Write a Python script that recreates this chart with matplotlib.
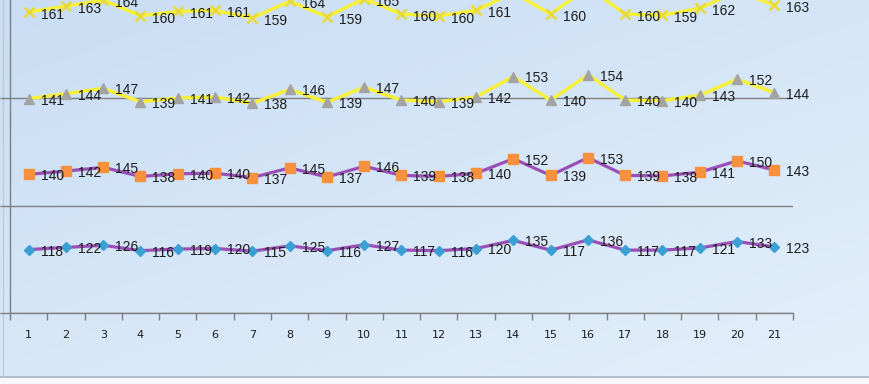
import numpy as np
import matplotlib
matplotlib.use("Agg")
import matplotlib.pyplot as plt

categories = [str(i) for i in range(1, 22)]
series_a = [118, 122, 126, 116, 119, 120, 115, 125, 116, 127, 117, 116, 120, 135, 117, 136, 117, 117, 121, 133, 123]
series_b = [140, 142, 145, 138, 140, 140, 137, 145, 137, 146, 139, 138, 140, 152, 139, 153, 139, 138, 141, 150, 143]
series_c = [141, 144, 147, 139, 141, 142, 138, 146, 139, 147, 140, 139, 142, 153, 140, 154, 140, 140, 143, 152, 144]
series_d = [161, 163, 164, 160, 161, 161, 159, 164, 159, 165, 160, 160, 161, 156, 160, 163, 160, 159, 162, 163, 163]
y_ticks = [0, 200, 400, 600]

W, H = 870, 384
fig = plt.figure(figsize=(W / 100, H / 100), dpi=100)

# background gradient (chart area)
bg = fig.add_axes([0, 0, 1, 1], zorder=-5)
bg.set_axis_off()
gx = np.linspace(0, 1, 200)
gy = np.linspace(0, 1, 100)
GX, GY = np.meshgrid(gx, gy)
t = np.clip(0.55 * GY + 0.45 * GX, 0, 1)[..., None]
c0 = np.array([0xc9, 0xdd, 0xf4]) / 255
c1 = np.array([0xe3, 0xf0, 0xfb]) / 255
img = c0 * (1 - t) + c1 * t
bg.imshow(img, extent=[0, 1, 0, 1], aspect="auto", origin="upper")
bg.set_xlim(0, 1)
bg.set_ylim(0, 1)
# white strip below the chart border
bg.fill_between([0, 1], 0, 7 / H, color="#f4f8fc", zorder=2)
bg.plot([0, 1], [7 / H, 7 / H], color="#a9b3bd", lw=1.2, zorder=3)
bg.plot([3 / W, 3 / W], [7 / H, 1], color="#b9c6d3", lw=0.8, zorder=3)

# plot axes: x from 10px to 793px, y=0 at 313px, 0.5375 px per unit
ymax = 700
px_per_unit = 107.5 / 200
left = 10 / W
width = (793 - 10) / W
bottom = (H - 313) / H
height = ymax * px_per_unit / H
ax = fig.add_axes([left, bottom, width, height])
ax.patch.set_alpha(0)

x = np.arange(1, len(categories) + 1)
a = np.array(series_a)
b = a + np.array(series_b)
c = b + np.array(series_c)
d = c + np.array(series_d)

purple = "#9a4fb6"
yellow = "#f6f03a"
ax.plot(x, a, color=purple, lw=2.3, marker="D", ms=5.5, mfc="#3a9fd2", mec="#3a9fd2", zorder=3)
ax.plot(x, b, color=purple, lw=2.3, marker="s", ms=6.5, mfc="#f7913e", mec="#f7913e", zorder=3)
ax.plot(x, c, color=yellow, lw=2.5, marker="^", ms=7, mfc="#a3a3a3", mec="#a3a3a3", zorder=3)
ax.plot(x, d, color=yellow, lw=2.5, marker="x", ms=7, mec="#e8d93a", mew=1.8, zorder=3)

for vals, cum, dy in [(series_a, a, -2), (series_b, b, -2), (series_c, c, -2), (series_d, d, -3)]:
    for xi, v, cy in zip(x, vals, cum):
        ax.annotate(str(v), (xi, cy), xytext=(12, dy), textcoords="offset pixels",
                    ha="left", va="center", fontsize=10, family="Liberation Sans",
                    color="#1c1c1c", zorder=5, annotation_clip=False)

ax.set_xlim(0.5, len(categories) + 0.5)
ax.set_ylim(0, ymax)
ax.set_yticks(y_ticks)
ax.set_yticklabels([])
ax.yaxis.grid(True, color="#7f7f7f", lw=1.0)
ax.set_axisbelow(True)
ax.tick_params(axis="y", direction="out", length=7, color="#7f7f7f", width=1)

ax.set_xticks(x)
ax.set_xticklabels(categories, fontsize=8, color="#1c1c1c")
ax.set_xticks(np.arange(0.5, len(categories) + 1, 1), minor=True)
ax.tick_params(axis="x", which="major", length=0, pad=12.5)
ax.tick_params(axis="x", which="minor", direction="out", length=5, color="#7f7f7f", width=1)

for s in ["top", "right"]:
    ax.spines[s].set_visible(False)
for s in ["left", "bottom"]:
    ax.spines[s].set_color("#7f7f7f")
    ax.spines[s].set_linewidth(1.0)

fig.savefig("out.png", dpi=100)
